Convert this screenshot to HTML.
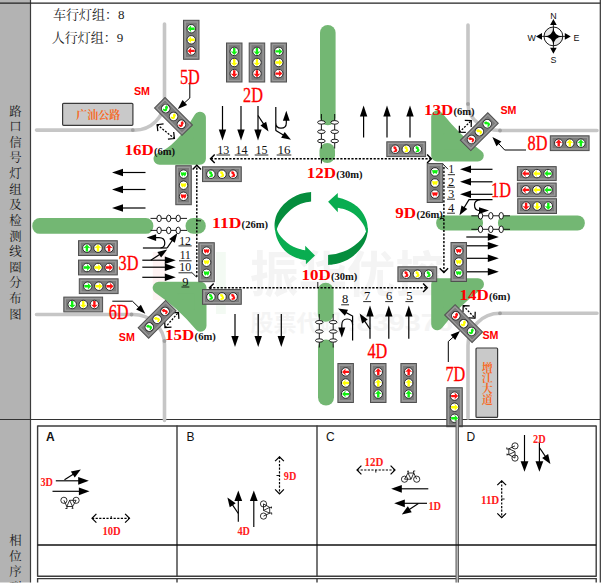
<!DOCTYPE html>
<html><head><meta charset="utf-8"><title>Intersection signal diagram</title>
<style>html,body{margin:0;padding:0;background:#fff;font-family:"Liberation Sans",sans-serif;overflow:hidden}svg{display:block;position:absolute;left:0;top:0}</style>
</head><body>
<svg width="608" height="585" viewBox="0 0 608 585">
<title>路口信号灯组及检测线圈分布图</title><desc>车行灯组：8 人行灯组：9 路口信号灯组及检测线圈分布图 相位序列 广汕公路 增江大道 A B C D</desc>
<rect width="608" height="585" fill="#fff"/>
<defs><clipPath id="cp"><rect x="0" y="0" width="608" height="582.6"/></clipPath></defs>
<g clip-path="url(#cp)">
<text x="250" y="292" font-family="Liberation Sans, Noto Sans CJK SC, sans-serif" font-weight="bold" font-size="48.7" fill="#f4f4f4" textLength="194" lengthAdjust="spacingAndGlyphs">振华优控</text>
<text x="250.5" y="330.5" font-family="Liberation Sans, Noto Sans CJK SC, sans-serif" font-weight="bold" font-size="23" fill="#f4f4f4" textLength="92" lengthAdjust="spacingAndGlyphs">股票代码</text>
<text x="347" y="331" font-family="Liberation Sans, sans-serif" font-weight="bold" font-size="23" fill="#f4f4f4" textLength="106" lengthAdjust="spacingAndGlyphs">:839376</text>
<rect x="152.8" y="252" width="13.8" height="48" fill="#fef3f3"/><rect x="216" y="252" width="9.8" height="62" fill="#f3faf3"/>
<rect x="0" y="0" width="30.5" height="583" fill="#b3b3b3"/>
<path d="M30.5,0 V583" stroke="#3c3c3c" stroke-width="1.2"/>
<path d="M0,3.1 H600.6" stroke="#222" stroke-width="1.1"/>
<path d="M600.3,0 V583" stroke="#333" stroke-width="1.2"/>
<path d="M0,419.5 H600" stroke="#333" stroke-width="1.1"/>
<path d="M36.5,130.1 H134.5 A30,29.6 0 0 0 164.5,100.5 V24" fill="none" stroke="#c6c6c6" stroke-width="3.6" stroke-linecap="round"/>
<path d="M468,25 V104 A32,26.5 0 0 0 500,130.5 H597" fill="none" stroke="#c6c6c6" stroke-width="3.6" stroke-linecap="round"/>
<path d="M36.5,314.5 H133 A31.5,30 0 0 1 164.5,344.5 V420.5" fill="none" stroke="#c6c6c6" stroke-width="3.6" stroke-linecap="round"/>
<path d="M597,313.3 H500 A32,32 0 0 0 468,345.3 V418" fill="none" stroke="#c6c6c6" stroke-width="3.6" stroke-linecap="round"/>
<circle cx="132.8" cy="130.1" r="1.9" fill="#a0a0a0"/>
<circle cx="468" cy="104" r="1.9" fill="#a0a0a0"/>
<circle cx="500" cy="130.5" r="1.9" fill="#a0a0a0"/>
<circle cx="131.5" cy="314.5" r="1.9" fill="#a0a0a0"/>
<circle cx="164.5" cy="341" r="1.9" fill="#a0a0a0"/>
<circle cx="500" cy="313.3" r="1.9" fill="#a0a0a0"/>
<rect x="320" y="25" width="15.6" height="100.2" rx="7.8" ry="7.8" fill="#73b773"/>
<rect x="319.5" y="143" width="15.5" height="20" rx="7.75" ry="7.75" fill="#73b773"/>
<rect x="317.8" y="282.7" width="15.8" height="39.1" rx="7.9" ry="7.9" fill="#73b773"/>
<rect x="318" y="339.4" width="16" height="66.1" rx="8" ry="8" fill="#73b773"/>
<rect x="32.3" y="218" width="121" height="15.8" rx="7.4" ry="7.4" fill="#73b773"/>
<rect x="185.5" y="218" width="20.3" height="15.8" rx="7.9" ry="7.9" fill="#73b773"/>
<rect x="436.2" y="215.4" width="46.8" height="15.2" rx="7.2" ry="7.2" fill="#73b773"/>
<rect x="498" y="215.4" width="86.8" height="15.2" rx="7.2" ry="7.2" fill="#73b773"/>
<path d="M199.9,117.7 L199.9,158.8 L159.5,158.8 Q180.3,151.2 199.9,117.7 Z" fill="#73b773" stroke="#73b773" stroke-width="12" stroke-linejoin="round"/>
<path d="M437.2,116.6 L437.2,155.6 L477.8,155.6 Q457.4,141.8 437.2,116.6 Z" fill="#73b773" stroke="#73b773" stroke-width="12" stroke-linejoin="round"/>
<path d="M158.7,287.8 L200.5,287.8 L200.5,325.7 Q182.3,303.8 158.7,287.8 Z" fill="#73b773" stroke="#73b773" stroke-width="12" stroke-linejoin="round"/>
<path d="M437.2,284.2 L478,284.2 Q455,301.3 437.2,324.2 Z" fill="#73b773" stroke="#73b773" stroke-width="12" stroke-linejoin="round"/>
<path d="M150.5,218.4 H187" stroke="#000" stroke-width="0.9"/>
<ellipse cx="159.1" cy="218.4" rx="2.2" ry="3.3" fill="#fff" stroke="#000" stroke-width="0.9"/>
<ellipse cx="168.7" cy="218.4" rx="2.2" ry="3.3" fill="#fff" stroke="#000" stroke-width="0.9"/>
<ellipse cx="178.2" cy="218.4" rx="2.2" ry="3.3" fill="#fff" stroke="#000" stroke-width="0.9"/>
<path d="M150.5,230.4 H187" stroke="#000" stroke-width="0.9"/>
<ellipse cx="159.1" cy="230.4" rx="2.2" ry="3.3" fill="#fff" stroke="#000" stroke-width="0.9"/>
<ellipse cx="168.7" cy="230.4" rx="2.2" ry="3.3" fill="#fff" stroke="#000" stroke-width="0.9"/>
<ellipse cx="178.2" cy="230.4" rx="2.2" ry="3.3" fill="#fff" stroke="#000" stroke-width="0.9"/>
<path d="M471.3,215.8 H510" stroke="#000" stroke-width="0.9"/>
<ellipse cx="480.5" cy="215.8" rx="2.2" ry="3.3" fill="#fff" stroke="#000" stroke-width="0.9"/>
<ellipse cx="490.8" cy="215.8" rx="2.2" ry="3.3" fill="#fff" stroke="#000" stroke-width="0.9"/>
<ellipse cx="501.2" cy="215.8" rx="2.2" ry="3.3" fill="#fff" stroke="#000" stroke-width="0.9"/>
<path d="M471.3,229.3 H510" stroke="#000" stroke-width="0.9"/>
<ellipse cx="480.5" cy="229.3" rx="2.2" ry="3.3" fill="#fff" stroke="#000" stroke-width="0.9"/>
<ellipse cx="490.8" cy="229.3" rx="2.2" ry="3.3" fill="#fff" stroke="#000" stroke-width="0.9"/>
<ellipse cx="501.2" cy="229.3" rx="2.2" ry="3.3" fill="#fff" stroke="#000" stroke-width="0.9"/>
<path d="M321.4,114 V148.5" stroke="#000" stroke-width="0.9"/>
<ellipse cx="321.4" cy="122.4" rx="3.8" ry="1.8" fill="#fff" stroke="#000" stroke-width="0.9"/>
<ellipse cx="321.4" cy="131.7" rx="3.8" ry="1.8" fill="#fff" stroke="#000" stroke-width="0.9"/>
<ellipse cx="321.4" cy="141" rx="3.8" ry="1.8" fill="#fff" stroke="#000" stroke-width="0.9"/>
<path d="M334.7,114 V148.5" stroke="#000" stroke-width="0.9"/>
<ellipse cx="334.7" cy="122.4" rx="3.8" ry="1.8" fill="#fff" stroke="#000" stroke-width="0.9"/>
<ellipse cx="334.7" cy="131.7" rx="3.8" ry="1.8" fill="#fff" stroke="#000" stroke-width="0.9"/>
<ellipse cx="334.7" cy="141" rx="3.8" ry="1.8" fill="#fff" stroke="#000" stroke-width="0.9"/>
<path d="M319.3,314 V347.5" stroke="#000" stroke-width="0.9"/>
<ellipse cx="319.3" cy="322.2" rx="3.8" ry="1.7" fill="#fff" stroke="#000" stroke-width="0.9"/>
<ellipse cx="319.3" cy="331.5" rx="3.8" ry="1.7" fill="#fff" stroke="#000" stroke-width="0.9"/>
<ellipse cx="319.3" cy="340.5" rx="3.8" ry="1.7" fill="#fff" stroke="#000" stroke-width="0.9"/>
<path d="M333.2,314 V347.5" stroke="#000" stroke-width="0.9"/>
<ellipse cx="333.2" cy="322.2" rx="3.8" ry="1.7" fill="#fff" stroke="#000" stroke-width="0.9"/>
<ellipse cx="333.2" cy="331.5" rx="3.8" ry="1.7" fill="#fff" stroke="#000" stroke-width="0.9"/>
<ellipse cx="333.2" cy="340.5" rx="3.8" ry="1.7" fill="#fff" stroke="#000" stroke-width="0.9"/>
<path d="M311.1,192.1 C309.6,192.35 304.85,192.85 302.1,193.6 C299.35,194.35 297.12,195.28 294.6,196.6 C292.08,197.92 289.27,199.68 287,201.5 C284.73,203.32 282.75,205.23 281,207.5 C279.25,209.77 277.57,212.47 276.5,215.1 C275.43,217.73 274.87,220.8 274.6,223.3 C274.33,225.8 274.85,228.97 274.9,230.1 L276.5,232 C276.63,231.3 276.67,229.5 277.3,227.8 C277.93,226.1 279.05,223.8 280.3,221.8 C281.55,219.8 283.05,217.8 284.8,215.8 C286.55,213.8 288.67,211.55 290.8,209.8 C292.93,208.05 295.35,206.48 297.6,205.3 C299.85,204.12 302.05,203.33 304.3,202.7 C306.55,202.07 309.97,201.7 311.1,201.5 Z" fill="#058d3d"/>
<path d="M328.1,264.9 C329.38,264.73 333.2,264.47 335.8,263.9 C338.4,263.33 341.07,262.62 343.7,261.5 C346.33,260.38 349.1,258.98 351.6,257.2 C354.1,255.42 356.58,253.18 358.7,250.8 C360.82,248.42 362.92,245.4 364.3,242.9 C365.68,240.4 366.42,238.17 367,235.8 C367.58,233.43 367.67,229.88 367.8,228.7 L367.3,227.2 C367.05,227.98 366.57,230.2 365.8,231.9 C365.03,233.6 364.13,235.5 362.7,237.4 C361.27,239.3 359.18,241.52 357.2,243.3 C355.22,245.08 353.05,246.72 350.8,248.1 C348.55,249.48 346.2,250.62 343.7,251.6 C341.2,252.58 338.4,253.45 335.8,254 C333.2,254.55 329.38,254.75 328.1,254.9 Z" fill="#058d3d"/>
<path d="M275,226.5 C275.1,227.67 275.12,231.15 275.6,233.5 C276.08,235.85 276.78,238.23 277.9,240.6 C279.02,242.97 280.65,245.6 282.3,247.7 C283.95,249.8 285.7,251.62 287.8,253.2 C289.9,254.78 292.53,256.15 294.9,257.2 C297.27,258.25 300.17,259 302,259.5 C303.83,260 305.25,260.08 305.9,260.2 L305.9,264.3 L315,255.6 L305.2,245.7 L305.2,250.2 C304.67,250.12 303.45,250.05 302,249.7 C300.55,249.35 298.47,248.9 296.5,248.1 C294.53,247.3 292.32,246.28 290.2,244.9 C288.08,243.52 285.65,241.57 283.8,239.8 C281.95,238.03 280.28,236.15 279.1,234.3 C277.92,232.45 277.17,230.5 276.7,228.7 C276.23,226.9 276.37,224.37 276.3,223.5 Z" fill="#09ad50"/>
<path d="M367.8,232.5 C367.72,231.13 367.7,226.72 367.3,224.3 C366.9,221.88 366.3,220.1 365.4,218 C364.5,215.9 363.27,213.6 361.9,211.7 C360.53,209.8 359.05,208.18 357.2,206.6 C355.35,205.02 352.92,203.4 350.8,202.2 C348.68,201 346.67,200.17 344.5,199.4 C342.33,198.63 338.92,197.9 337.8,197.6 L337.8,192.9 L328.1,201.8 L337.8,212.3 L337.8,207.7 C338.92,207.97 342.33,208.57 344.5,209.3 C346.67,210.03 348.82,210.98 350.8,212.1 C352.78,213.22 354.68,214.48 356.4,216 C358.12,217.52 359.78,219.48 361.1,221.2 C362.42,222.92 363.43,224.42 364.3,226.3 C365.17,228.18 365.97,231.47 366.3,232.5 Z" fill="#09ad50"/>
<path d="M431.3,158.8 L210.5,158.8" stroke="#000" stroke-width="1.45" stroke-dasharray="2.2 1.5" fill="none"/>
<path d="M214.7,154.6 L210.5,158.8 L214.7,163" stroke="#000" stroke-width="1.45" fill="none"/>
<path d="M427.1,154.6 L431.3,158.8 L427.1,163" stroke="#000" stroke-width="1.45" fill="none"/>
<path d="M209.5,287.7 L427.3,287.7" stroke="#000" stroke-width="1.45" stroke-dasharray="2.2 1.5" fill="none"/>
<path d="M423.1,291.9 L427.3,287.7 L423.1,283.5" stroke="#000" stroke-width="1.45" fill="none"/>
<path d="M213.7,291.9 L209.5,287.7 L213.7,283.5" stroke="#000" stroke-width="1.45" fill="none"/>
<path d="M196.8,277 L196.8,165.3" stroke="#000" stroke-width="1.45" stroke-dasharray="2.2 1.5" fill="none"/>
<path d="M201,169.5 L196.8,165.3 L192.6,169.5" stroke="#000" stroke-width="1.45" fill="none"/>
<path d="M191.6,272.3 L196.6,277.2" stroke="#000" stroke-width="0.9"/>
<path d="M443.9,167 L443.9,272.5" stroke="#000" stroke-width="1.45" stroke-dasharray="2.2 1.5" fill="none"/>
<path d="M439.7,268.3 L443.9,272.5 L448.1,268.3" stroke="#000" stroke-width="1.45" fill="none"/>
<path d="M442.8,163.9 L448,169.2" stroke="#000" stroke-width="0.9"/>
<path d="M196.8,220.8 H201 M321.4,158.8 V163.5 M317.8,287.7 V282 M443.8,218.5 H440 M111.2,518.3 V516 M279.5,475.5 H276.5 M375.8,470 V472.6 M501.6,499 H504.6" stroke="#000" stroke-width="0.9" fill="none"/>
<path d="M157.1,124.7 L174.4,138.5" stroke="#000" stroke-width="1.25" stroke-dasharray="2 1.4" fill="none"/>
<path d="M167.94,139.23 L174.4,138.5 L173.67,132.04" stroke="#000" stroke-width="1.25" fill="none"/>
<path d="M157.83,131.16 L157.1,124.7 L163.56,123.97" stroke="#000" stroke-width="1.25" fill="none"/>
<path d="M165,327.6 L178.5,312.4" stroke="#000" stroke-width="1.25" stroke-dasharray="2 1.4" fill="none"/>
<path d="M178.88,318.89 L178.5,312.4 L172.01,312.78" stroke="#000" stroke-width="1.25" fill="none"/>
<path d="M171.49,327.22 L165,327.6 L164.62,321.11" stroke="#000" stroke-width="1.25" fill="none"/>
<path d="M463.2,305.6 L475,318.2" stroke="#000" stroke-width="1.25" stroke-dasharray="2 1.4" fill="none"/>
<path d="M468.5,317.99 L475,318.2 L475.21,311.7" stroke="#000" stroke-width="1.25" fill="none"/>
<path d="M462.99,312.1 L463.2,305.6 L469.7,305.81" stroke="#000" stroke-width="1.25" fill="none"/>
<path d="M459.3,132.2 L471.3,120.6" stroke="#000" stroke-width="1.25" stroke-dasharray="2 1.4" fill="none"/>
<path d="M471.19,127.1 L471.3,120.6 L464.8,120.49" stroke="#000" stroke-width="1.25" fill="none"/>
<path d="M465.8,132.31 L459.3,132.2 L459.41,125.7" stroke="#000" stroke-width="1.25" fill="none"/>
<g transform="translate(183,19.8)">
<rect x="0.5" y="0.5" width="15.5" height="39" fill="#8e8e8e" stroke="#505050" stroke-width="1"/><rect x="2.3" y="2.3" width="11.9" height="35.4" fill="#7b7b7b" stroke="#a8a8a8" stroke-width="0.6"/>
<circle cx="8.25" cy="8.9" r="4.25" fill="#fff" stroke="#262626" stroke-width="0.95"/>
<path d="M-3.6,0 L0.1,-3.5 L-0.4,-1.2 L3.4,-1.2 L3.4,1.2 L-0.4,1.2 L0.1,3.5 Z" fill="#10f010" transform="translate(8.25,8.9) rotate(0) scale(1)"/>
<circle cx="8.25" cy="20" r="4.25" fill="#fff" stroke="#262626" stroke-width="0.95"/>
<path d="M-3.6,0 L0.1,-3.5 L-0.4,-1.2 L3.4,-1.2 L3.4,1.2 L-0.4,1.2 L0.1,3.5 Z" fill="#ffff00" transform="translate(8.25,20) rotate(0) scale(1)"/>
<circle cx="8.25" cy="31.1" r="4.25" fill="#fff" stroke="#262626" stroke-width="0.95"/>
<path d="M-3.6,0 L0.1,-3.5 L-0.4,-1.2 L3.4,-1.2 L3.4,1.2 L-0.4,1.2 L0.1,3.5 Z" fill="#ff1010" transform="translate(8.25,31.1) rotate(0) scale(1)"/>
</g>
<g transform="translate(226,42.5)">
<rect x="0.5" y="0.5" width="15.5" height="39" fill="#8e8e8e" stroke="#505050" stroke-width="1"/><rect x="2.3" y="2.3" width="11.9" height="35.4" fill="#7b7b7b" stroke="#a8a8a8" stroke-width="0.6"/>
<circle cx="8.25" cy="8.9" r="4.25" fill="#fff" stroke="#262626" stroke-width="0.95"/>
<path d="M-3.6,0 L0.1,-3.5 L-0.4,-1.2 L3.4,-1.2 L3.4,1.2 L-0.4,1.2 L0.1,3.5 Z" fill="#10f010" transform="translate(8.25,8.9) rotate(270) scale(1)"/>
<circle cx="8.25" cy="20" r="4.25" fill="#fff" stroke="#262626" stroke-width="0.95"/>
<path d="M-3.6,0 L0.1,-3.5 L-0.4,-1.2 L3.4,-1.2 L3.4,1.2 L-0.4,1.2 L0.1,3.5 Z" fill="#ffff00" transform="translate(8.25,20) rotate(270) scale(1)"/>
<circle cx="8.25" cy="31.1" r="4.25" fill="#fff" stroke="#262626" stroke-width="0.95"/>
<path d="M-3.6,0 L0.1,-3.5 L-0.4,-1.2 L3.4,-1.2 L3.4,1.2 L-0.4,1.2 L0.1,3.5 Z" fill="#ff1010" transform="translate(8.25,31.1) rotate(270) scale(1)"/>
</g>
<g transform="translate(248.7,42.5)">
<rect x="0.5" y="0.5" width="15.5" height="39" fill="#8e8e8e" stroke="#505050" stroke-width="1"/><rect x="2.3" y="2.3" width="11.9" height="35.4" fill="#7b7b7b" stroke="#a8a8a8" stroke-width="0.6"/>
<circle cx="8.25" cy="8.9" r="4.25" fill="#fff" stroke="#262626" stroke-width="0.95"/>
<path d="M-3.6,0 L0.1,-3.5 L-0.4,-1.2 L3.4,-1.2 L3.4,1.2 L-0.4,1.2 L0.1,3.5 Z" fill="#10f010" transform="translate(8.25,8.9) rotate(270) scale(1)"/>
<circle cx="8.25" cy="20" r="4.25" fill="#fff" stroke="#262626" stroke-width="0.95"/>
<path d="M-3.6,0 L0.1,-3.5 L-0.4,-1.2 L3.4,-1.2 L3.4,1.2 L-0.4,1.2 L0.1,3.5 Z" fill="#ffff00" transform="translate(8.25,20) rotate(270) scale(1)"/>
<circle cx="8.25" cy="31.1" r="4.25" fill="#fff" stroke="#262626" stroke-width="0.95"/>
<path d="M-3.6,0 L0.1,-3.5 L-0.4,-1.2 L3.4,-1.2 L3.4,1.2 L-0.4,1.2 L0.1,3.5 Z" fill="#ff1010" transform="translate(8.25,31.1) rotate(270) scale(1)"/>
</g>
<g transform="translate(270.5,42.5)">
<rect x="0.5" y="0.5" width="15.5" height="39" fill="#8e8e8e" stroke="#505050" stroke-width="1"/><rect x="2.3" y="2.3" width="11.9" height="35.4" fill="#7b7b7b" stroke="#a8a8a8" stroke-width="0.6"/>
<circle cx="8.25" cy="8.9" r="4.25" fill="#fff" stroke="#262626" stroke-width="0.95"/>
<path d="M-3.6,0 L0.1,-3.5 L-0.4,-1.2 L3.4,-1.2 L3.4,1.2 L-0.4,1.2 L0.1,3.5 Z" fill="#10f010" transform="translate(8.25,8.9) rotate(180) scale(1)"/>
<circle cx="8.25" cy="20" r="4.25" fill="#fff" stroke="#262626" stroke-width="0.95"/>
<path d="M-3.6,0 L0.1,-3.5 L-0.4,-1.2 L3.4,-1.2 L3.4,1.2 L-0.4,1.2 L0.1,3.5 Z" fill="#ffff00" transform="translate(8.25,20) rotate(180) scale(1)"/>
<circle cx="8.25" cy="31.1" r="4.25" fill="#fff" stroke="#262626" stroke-width="0.95"/>
<path d="M-3.6,0 L0.1,-3.5 L-0.4,-1.2 L3.4,-1.2 L3.4,1.2 L-0.4,1.2 L0.1,3.5 Z" fill="#ff1010" transform="translate(8.25,31.1) rotate(180) scale(1)"/>
</g>
<g transform="translate(337.4,363)">
<rect x="0.5" y="0.5" width="15.5" height="39" fill="#8e8e8e" stroke="#505050" stroke-width="1"/><rect x="2.3" y="2.3" width="11.9" height="35.4" fill="#7b7b7b" stroke="#a8a8a8" stroke-width="0.6"/>
<circle cx="8.25" cy="8.9" r="4.25" fill="#fff" stroke="#262626" stroke-width="0.95"/>
<path d="M-3.6,0 L0.1,-3.5 L-0.4,-1.2 L3.4,-1.2 L3.4,1.2 L-0.4,1.2 L0.1,3.5 Z" fill="#ff1010" transform="translate(8.25,8.9) rotate(0) scale(1)"/>
<circle cx="8.25" cy="20" r="4.25" fill="#fff" stroke="#262626" stroke-width="0.95"/>
<path d="M-3.6,0 L0.1,-3.5 L-0.4,-1.2 L3.4,-1.2 L3.4,1.2 L-0.4,1.2 L0.1,3.5 Z" fill="#ffff00" transform="translate(8.25,20) rotate(0) scale(1)"/>
<circle cx="8.25" cy="31.1" r="4.25" fill="#fff" stroke="#262626" stroke-width="0.95"/>
<path d="M-3.6,0 L0.1,-3.5 L-0.4,-1.2 L3.4,-1.2 L3.4,1.2 L-0.4,1.2 L0.1,3.5 Z" fill="#10f010" transform="translate(8.25,31.1) rotate(0) scale(1)"/>
</g>
<g transform="translate(370,363)">
<rect x="0.5" y="0.5" width="15.5" height="39" fill="#8e8e8e" stroke="#505050" stroke-width="1"/><rect x="2.3" y="2.3" width="11.9" height="35.4" fill="#7b7b7b" stroke="#a8a8a8" stroke-width="0.6"/>
<circle cx="8.25" cy="8.9" r="4.25" fill="#fff" stroke="#262626" stroke-width="0.95"/>
<path d="M-3.6,0 L0.1,-3.5 L-0.4,-1.2 L3.4,-1.2 L3.4,1.2 L-0.4,1.2 L0.1,3.5 Z" fill="#ff1010" transform="translate(8.25,8.9) rotate(90) scale(1)"/>
<circle cx="8.25" cy="20" r="4.25" fill="#fff" stroke="#262626" stroke-width="0.95"/>
<path d="M-3.6,0 L0.1,-3.5 L-0.4,-1.2 L3.4,-1.2 L3.4,1.2 L-0.4,1.2 L0.1,3.5 Z" fill="#ffff00" transform="translate(8.25,20) rotate(90) scale(1)"/>
<circle cx="8.25" cy="31.1" r="4.25" fill="#fff" stroke="#262626" stroke-width="0.95"/>
<path d="M-3.6,0 L0.1,-3.5 L-0.4,-1.2 L3.4,-1.2 L3.4,1.2 L-0.4,1.2 L0.1,3.5 Z" fill="#10f010" transform="translate(8.25,31.1) rotate(90) scale(1)"/>
</g>
<g transform="translate(400.4,363)">
<rect x="0.5" y="0.5" width="15.5" height="39" fill="#8e8e8e" stroke="#505050" stroke-width="1"/><rect x="2.3" y="2.3" width="11.9" height="35.4" fill="#7b7b7b" stroke="#a8a8a8" stroke-width="0.6"/>
<circle cx="8.25" cy="8.9" r="4.25" fill="#fff" stroke="#262626" stroke-width="0.95"/>
<path d="M-3.6,0 L0.1,-3.5 L-0.4,-1.2 L3.4,-1.2 L3.4,1.2 L-0.4,1.2 L0.1,3.5 Z" fill="#ff1010" transform="translate(8.25,8.9) rotate(90) scale(1)"/>
<circle cx="8.25" cy="20" r="4.25" fill="#fff" stroke="#262626" stroke-width="0.95"/>
<path d="M-3.6,0 L0.1,-3.5 L-0.4,-1.2 L3.4,-1.2 L3.4,1.2 L-0.4,1.2 L0.1,3.5 Z" fill="#ffff00" transform="translate(8.25,20) rotate(90) scale(1)"/>
<circle cx="8.25" cy="31.1" r="4.25" fill="#fff" stroke="#262626" stroke-width="0.95"/>
<path d="M-3.6,0 L0.1,-3.5 L-0.4,-1.2 L3.4,-1.2 L3.4,1.2 L-0.4,1.2 L0.1,3.5 Z" fill="#10f010" transform="translate(8.25,31.1) rotate(90) scale(1)"/>
</g>
<g transform="translate(446.3,387.2)">
<rect x="0.5" y="0.5" width="15.5" height="39" fill="#8e8e8e" stroke="#505050" stroke-width="1"/><rect x="2.3" y="2.3" width="11.9" height="35.4" fill="#7b7b7b" stroke="#a8a8a8" stroke-width="0.6"/>
<circle cx="8.25" cy="8.9" r="4.25" fill="#fff" stroke="#262626" stroke-width="0.95"/>
<path d="M-3.6,0 L0.1,-3.5 L-0.4,-1.2 L3.4,-1.2 L3.4,1.2 L-0.4,1.2 L0.1,3.5 Z" fill="#ff1010" transform="translate(8.25,8.9) rotate(180) scale(1)"/>
<circle cx="8.25" cy="20" r="4.25" fill="#fff" stroke="#262626" stroke-width="0.95"/>
<path d="M-3.6,0 L0.1,-3.5 L-0.4,-1.2 L3.4,-1.2 L3.4,1.2 L-0.4,1.2 L0.1,3.5 Z" fill="#ffff00" transform="translate(8.25,20) rotate(180) scale(1)"/>
<circle cx="8.25" cy="31.1" r="4.25" fill="#fff" stroke="#262626" stroke-width="0.95"/>
<path d="M-3.6,0 L0.1,-3.5 L-0.4,-1.2 L3.4,-1.2 L3.4,1.2 L-0.4,1.2 L0.1,3.5 Z" fill="#10f010" transform="translate(8.25,31.1) rotate(180) scale(1)"/>
</g>
<g transform="translate(549.8,135.3)">
<rect x="0.5" y="0.5" width="38.8" height="14.8" fill="#8e8e8e" stroke="#505050" stroke-width="1"/><rect x="2.3" y="2.3" width="35.2" height="11.2" fill="#7b7b7b" stroke="#a8a8a8" stroke-width="0.6"/>
<circle cx="8.9" cy="7.9" r="4.25" fill="#fff" stroke="#262626" stroke-width="0.95"/>
<path d="M-3.6,0 L0.1,-3.5 L-0.4,-1.2 L3.4,-1.2 L3.4,1.2 L-0.4,1.2 L0.1,3.5 Z" fill="#ff1010" transform="translate(8.9,7.9) rotate(90) scale(1)"/>
<circle cx="20" cy="7.9" r="4.25" fill="#fff" stroke="#262626" stroke-width="0.95"/>
<path d="M-3.6,0 L0.1,-3.5 L-0.4,-1.2 L3.4,-1.2 L3.4,1.2 L-0.4,1.2 L0.1,3.5 Z" fill="#ffff00" transform="translate(20,7.9) rotate(90) scale(1)"/>
<circle cx="31.1" cy="7.9" r="4.25" fill="#fff" stroke="#262626" stroke-width="0.95"/>
<path d="M-3.6,0 L0.1,-3.5 L-0.4,-1.2 L3.4,-1.2 L3.4,1.2 L-0.4,1.2 L0.1,3.5 Z" fill="#10f010" transform="translate(31.1,7.9) rotate(90) scale(1)"/>
</g>
<g transform="translate(516.9,166.1)">
<rect x="0.5" y="0.5" width="38.8" height="14" fill="#8e8e8e" stroke="#505050" stroke-width="1"/><rect x="2.3" y="2.3" width="35.2" height="10.4" fill="#7b7b7b" stroke="#a8a8a8" stroke-width="0.6"/>
<circle cx="8.9" cy="7.5" r="4.25" fill="#fff" stroke="#262626" stroke-width="0.95"/>
<path d="M-3.6,0 L0.1,-3.5 L-0.4,-1.2 L3.4,-1.2 L3.4,1.2 L-0.4,1.2 L0.1,3.5 Z" fill="#ff1010" transform="translate(8.9,7.5) rotate(0) scale(1)"/>
<circle cx="20" cy="7.5" r="4.25" fill="#fff" stroke="#262626" stroke-width="0.95"/>
<path d="M-3.6,0 L0.1,-3.5 L-0.4,-1.2 L3.4,-1.2 L3.4,1.2 L-0.4,1.2 L0.1,3.5 Z" fill="#ffff00" transform="translate(20,7.5) rotate(0) scale(1)"/>
<circle cx="31.1" cy="7.5" r="4.25" fill="#fff" stroke="#262626" stroke-width="0.95"/>
<path d="M-3.6,0 L0.1,-3.5 L-0.4,-1.2 L3.4,-1.2 L3.4,1.2 L-0.4,1.2 L0.1,3.5 Z" fill="#10f010" transform="translate(31.1,7.5) rotate(0) scale(1)"/>
</g>
<g transform="translate(516.9,182.5)">
<rect x="0.5" y="0.5" width="38.8" height="13.8" fill="#8e8e8e" stroke="#505050" stroke-width="1"/><rect x="2.3" y="2.3" width="35.2" height="10.2" fill="#7b7b7b" stroke="#a8a8a8" stroke-width="0.6"/>
<circle cx="8.9" cy="7.4" r="4.25" fill="#fff" stroke="#262626" stroke-width="0.95"/>
<path d="M-3.6,0 L0.1,-3.5 L-0.4,-1.2 L3.4,-1.2 L3.4,1.2 L-0.4,1.2 L0.1,3.5 Z" fill="#ff1010" transform="translate(8.9,7.4) rotate(0) scale(1)"/>
<circle cx="20" cy="7.4" r="4.25" fill="#fff" stroke="#262626" stroke-width="0.95"/>
<path d="M-3.6,0 L0.1,-3.5 L-0.4,-1.2 L3.4,-1.2 L3.4,1.2 L-0.4,1.2 L0.1,3.5 Z" fill="#ffff00" transform="translate(20,7.4) rotate(0) scale(1)"/>
<circle cx="31.1" cy="7.4" r="4.25" fill="#fff" stroke="#262626" stroke-width="0.95"/>
<path d="M-3.6,0 L0.1,-3.5 L-0.4,-1.2 L3.4,-1.2 L3.4,1.2 L-0.4,1.2 L0.1,3.5 Z" fill="#10f010" transform="translate(31.1,7.4) rotate(0) scale(1)"/>
</g>
<g transform="translate(517.2,198.2)">
<rect x="0.5" y="0.5" width="38.8" height="14.8" fill="#8e8e8e" stroke="#505050" stroke-width="1"/><rect x="2.3" y="2.3" width="35.2" height="11.2" fill="#7b7b7b" stroke="#a8a8a8" stroke-width="0.6"/>
<circle cx="8.9" cy="7.9" r="4.25" fill="#fff" stroke="#262626" stroke-width="0.95"/>
<path d="M-3.6,0 L0.1,-3.5 L-0.4,-1.2 L3.4,-1.2 L3.4,1.2 L-0.4,1.2 L0.1,3.5 Z" fill="#ff1010" transform="translate(8.9,7.9) rotate(270) scale(1)"/>
<circle cx="20" cy="7.9" r="4.25" fill="#fff" stroke="#262626" stroke-width="0.95"/>
<path d="M-3.6,0 L0.1,-3.5 L-0.4,-1.2 L3.4,-1.2 L3.4,1.2 L-0.4,1.2 L0.1,3.5 Z" fill="#ffff00" transform="translate(20,7.9) rotate(270) scale(1)"/>
<circle cx="31.1" cy="7.9" r="4.25" fill="#fff" stroke="#262626" stroke-width="0.95"/>
<path d="M-3.6,0 L0.1,-3.5 L-0.4,-1.2 L3.4,-1.2 L3.4,1.2 L-0.4,1.2 L0.1,3.5 Z" fill="#10f010" transform="translate(31.1,7.9) rotate(270) scale(1)"/>
</g>
<g transform="translate(78,240.2)">
<rect x="0.5" y="0.5" width="38.8" height="14.8" fill="#8e8e8e" stroke="#505050" stroke-width="1"/><rect x="2.3" y="2.3" width="35.2" height="11.2" fill="#7b7b7b" stroke="#a8a8a8" stroke-width="0.6"/>
<circle cx="8.9" cy="7.9" r="4.25" fill="#fff" stroke="#262626" stroke-width="0.95"/>
<path d="M-3.6,0 L0.1,-3.5 L-0.4,-1.2 L3.4,-1.2 L3.4,1.2 L-0.4,1.2 L0.1,3.5 Z" fill="#10f010" transform="translate(8.9,7.9) rotate(90) scale(1)"/>
<circle cx="20" cy="7.9" r="4.25" fill="#fff" stroke="#262626" stroke-width="0.95"/>
<path d="M-3.6,0 L0.1,-3.5 L-0.4,-1.2 L3.4,-1.2 L3.4,1.2 L-0.4,1.2 L0.1,3.5 Z" fill="#ffff00" transform="translate(20,7.9) rotate(90) scale(1)"/>
<circle cx="31.1" cy="7.9" r="4.25" fill="#fff" stroke="#262626" stroke-width="0.95"/>
<path d="M-3.6,0 L0.1,-3.5 L-0.4,-1.2 L3.4,-1.2 L3.4,1.2 L-0.4,1.2 L0.1,3.5 Z" fill="#ff1010" transform="translate(31.1,7.9) rotate(90) scale(1)"/>
</g>
<g transform="translate(78,259.6)">
<rect x="0.5" y="0.5" width="38.8" height="14.8" fill="#8e8e8e" stroke="#505050" stroke-width="1"/><rect x="2.3" y="2.3" width="35.2" height="11.2" fill="#7b7b7b" stroke="#a8a8a8" stroke-width="0.6"/>
<circle cx="8.9" cy="7.9" r="4.25" fill="#fff" stroke="#262626" stroke-width="0.95"/>
<path d="M-3.6,0 L0.1,-3.5 L-0.4,-1.2 L3.4,-1.2 L3.4,1.2 L-0.4,1.2 L0.1,3.5 Z" fill="#10f010" transform="translate(8.9,7.9) rotate(180) scale(1)"/>
<circle cx="20" cy="7.9" r="4.25" fill="#fff" stroke="#262626" stroke-width="0.95"/>
<path d="M-3.6,0 L0.1,-3.5 L-0.4,-1.2 L3.4,-1.2 L3.4,1.2 L-0.4,1.2 L0.1,3.5 Z" fill="#ffff00" transform="translate(20,7.9) rotate(180) scale(1)"/>
<circle cx="31.1" cy="7.9" r="4.25" fill="#fff" stroke="#262626" stroke-width="0.95"/>
<path d="M-3.6,0 L0.1,-3.5 L-0.4,-1.2 L3.4,-1.2 L3.4,1.2 L-0.4,1.2 L0.1,3.5 Z" fill="#ff1010" transform="translate(31.1,7.9) rotate(180) scale(1)"/>
</g>
<g transform="translate(78.8,278.3)">
<rect x="0.5" y="0.5" width="38.8" height="14.8" fill="#8e8e8e" stroke="#505050" stroke-width="1"/><rect x="2.3" y="2.3" width="35.2" height="11.2" fill="#7b7b7b" stroke="#a8a8a8" stroke-width="0.6"/>
<circle cx="8.9" cy="7.9" r="4.25" fill="#fff" stroke="#262626" stroke-width="0.95"/>
<path d="M-3.6,0 L0.1,-3.5 L-0.4,-1.2 L3.4,-1.2 L3.4,1.2 L-0.4,1.2 L0.1,3.5 Z" fill="#10f010" transform="translate(8.9,7.9) rotate(180) scale(1)"/>
<circle cx="20" cy="7.9" r="4.25" fill="#fff" stroke="#262626" stroke-width="0.95"/>
<path d="M-3.6,0 L0.1,-3.5 L-0.4,-1.2 L3.4,-1.2 L3.4,1.2 L-0.4,1.2 L0.1,3.5 Z" fill="#ffff00" transform="translate(20,7.9) rotate(180) scale(1)"/>
<circle cx="31.1" cy="7.9" r="4.25" fill="#fff" stroke="#262626" stroke-width="0.95"/>
<path d="M-3.6,0 L0.1,-3.5 L-0.4,-1.2 L3.4,-1.2 L3.4,1.2 L-0.4,1.2 L0.1,3.5 Z" fill="#ff1010" transform="translate(31.1,7.9) rotate(180) scale(1)"/>
</g>
<g transform="translate(63.3,296.6)">
<rect x="0.5" y="0.5" width="38.8" height="14.8" fill="#8e8e8e" stroke="#505050" stroke-width="1"/><rect x="2.3" y="2.3" width="35.2" height="11.2" fill="#7b7b7b" stroke="#a8a8a8" stroke-width="0.6"/>
<circle cx="8.9" cy="7.9" r="4.25" fill="#fff" stroke="#262626" stroke-width="0.95"/>
<path d="M-3.6,0 L0.1,-3.5 L-0.4,-1.2 L3.4,-1.2 L3.4,1.2 L-0.4,1.2 L0.1,3.5 Z" fill="#10f010" transform="translate(8.9,7.9) rotate(270) scale(1)"/>
<circle cx="20" cy="7.9" r="4.25" fill="#fff" stroke="#262626" stroke-width="0.95"/>
<path d="M-3.6,0 L0.1,-3.5 L-0.4,-1.2 L3.4,-1.2 L3.4,1.2 L-0.4,1.2 L0.1,3.5 Z" fill="#ffff00" transform="translate(20,7.9) rotate(270) scale(1)"/>
<circle cx="31.1" cy="7.9" r="4.25" fill="#fff" stroke="#262626" stroke-width="0.95"/>
<path d="M-3.6,0 L0.1,-3.5 L-0.4,-1.2 L3.4,-1.2 L3.4,1.2 L-0.4,1.2 L0.1,3.5 Z" fill="#ff1010" transform="translate(31.1,7.9) rotate(270) scale(1)"/>
</g>
<g transform="translate(175.3,165.2)">
<rect x="0.5" y="0.5" width="15.5" height="39" fill="#8e8e8e" stroke="#505050" stroke-width="1"/><rect x="2.3" y="2.3" width="11.9" height="35.4" fill="#7b7b7b" stroke="#a8a8a8" stroke-width="0.6"/>
<circle cx="8.25" cy="8.9" r="4.25" fill="#fff" stroke="#262626" stroke-width="0.95"/>
<path d="M-2.9,-1.6 C-1.8,-2.6 -0.9,-1.2 0,-1.8 C0.9,-1.2 1.8,-2.6 2.9,-1.6 L2.4,0.6 L1.2,2.4 L0.4,1.2 L-0.4,1.2 L-1.2,2.4 L-2.4,0.6 Z" fill="#10f010" transform="translate(8.25,8.9)"/>
<circle cx="8.25" cy="20" r="4.25" fill="#fff" stroke="#262626" stroke-width="0.95"/>
<path d="M-2.9,-1.6 C-1.8,-2.6 -0.9,-1.2 0,-1.8 C0.9,-1.2 1.8,-2.6 2.9,-1.6 L2.4,0.6 L1.2,2.4 L0.4,1.2 L-0.4,1.2 L-1.2,2.4 L-2.4,0.6 Z" fill="#ffff00" transform="translate(8.25,20)"/>
<circle cx="8.25" cy="31.1" r="4.25" fill="#fff" stroke="#262626" stroke-width="0.95"/>
<path d="M-2.9,-1.6 C-1.8,-2.6 -0.9,-1.2 0,-1.8 C0.9,-1.2 1.8,-2.6 2.9,-1.6 L2.4,0.6 L1.2,2.4 L0.4,1.2 L-0.4,1.2 L-1.2,2.4 L-2.4,0.6 Z" fill="#ff1010" transform="translate(8.25,31.1)"/>
</g>
<g transform="translate(198.3,242.2)">
<rect x="0.5" y="0.5" width="15.5" height="39" fill="#8e8e8e" stroke="#505050" stroke-width="1"/><rect x="2.3" y="2.3" width="11.9" height="35.4" fill="#7b7b7b" stroke="#a8a8a8" stroke-width="0.6"/>
<circle cx="8.25" cy="8.9" r="4.25" fill="#fff" stroke="#262626" stroke-width="0.95"/>
<path d="M-2.9,-1.6 C-1.8,-2.6 -0.9,-1.2 0,-1.8 C0.9,-1.2 1.8,-2.6 2.9,-1.6 L2.4,0.6 L1.2,2.4 L0.4,1.2 L-0.4,1.2 L-1.2,2.4 L-2.4,0.6 Z" fill="#ff1010" transform="translate(8.25,8.9)"/>
<circle cx="8.25" cy="20" r="4.25" fill="#fff" stroke="#262626" stroke-width="0.95"/>
<path d="M-2.9,-1.6 C-1.8,-2.6 -0.9,-1.2 0,-1.8 C0.9,-1.2 1.8,-2.6 2.9,-1.6 L2.4,0.6 L1.2,2.4 L0.4,1.2 L-0.4,1.2 L-1.2,2.4 L-2.4,0.6 Z" fill="#ffff00" transform="translate(8.25,20)"/>
<circle cx="8.25" cy="31.1" r="4.25" fill="#fff" stroke="#262626" stroke-width="0.95"/>
<path d="M-2.9,-1.6 C-1.8,-2.6 -0.9,-1.2 0,-1.8 C0.9,-1.2 1.8,-2.6 2.9,-1.6 L2.4,0.6 L1.2,2.4 L0.4,1.2 L-0.4,1.2 L-1.2,2.4 L-2.4,0.6 Z" fill="#10f010" transform="translate(8.25,31.1)"/>
</g>
<g transform="translate(426.7,163)">
<rect x="0.5" y="0.5" width="15.5" height="39" fill="#8e8e8e" stroke="#505050" stroke-width="1"/><rect x="2.3" y="2.3" width="11.9" height="35.4" fill="#7b7b7b" stroke="#a8a8a8" stroke-width="0.6"/>
<circle cx="8.25" cy="8.9" r="4.25" fill="#fff" stroke="#262626" stroke-width="0.95"/>
<path d="M-2.9,-1.6 C-1.8,-2.6 -0.9,-1.2 0,-1.8 C0.9,-1.2 1.8,-2.6 2.9,-1.6 L2.4,0.6 L1.2,2.4 L0.4,1.2 L-0.4,1.2 L-1.2,2.4 L-2.4,0.6 Z" fill="#10f010" transform="translate(8.25,8.9)"/>
<circle cx="8.25" cy="20" r="4.25" fill="#fff" stroke="#262626" stroke-width="0.95"/>
<path d="M-2.9,-1.6 C-1.8,-2.6 -0.9,-1.2 0,-1.8 C0.9,-1.2 1.8,-2.6 2.9,-1.6 L2.4,0.6 L1.2,2.4 L0.4,1.2 L-0.4,1.2 L-1.2,2.4 L-2.4,0.6 Z" fill="#ffff00" transform="translate(8.25,20)"/>
<circle cx="8.25" cy="31.1" r="4.25" fill="#fff" stroke="#262626" stroke-width="0.95"/>
<path d="M-2.9,-1.6 C-1.8,-2.6 -0.9,-1.2 0,-1.8 C0.9,-1.2 1.8,-2.6 2.9,-1.6 L2.4,0.6 L1.2,2.4 L0.4,1.2 L-0.4,1.2 L-1.2,2.4 L-2.4,0.6 Z" fill="#ff1010" transform="translate(8.25,31.1)"/>
</g>
<g transform="translate(450.5,242)">
<rect x="0.5" y="0.5" width="15.5" height="39" fill="#8e8e8e" stroke="#505050" stroke-width="1"/><rect x="2.3" y="2.3" width="11.9" height="35.4" fill="#7b7b7b" stroke="#a8a8a8" stroke-width="0.6"/>
<circle cx="8.25" cy="8.9" r="4.25" fill="#fff" stroke="#262626" stroke-width="0.95"/>
<path d="M-2.9,-1.6 C-1.8,-2.6 -0.9,-1.2 0,-1.8 C0.9,-1.2 1.8,-2.6 2.9,-1.6 L2.4,0.6 L1.2,2.4 L0.4,1.2 L-0.4,1.2 L-1.2,2.4 L-2.4,0.6 Z" fill="#ff1010" transform="translate(8.25,8.9)"/>
<circle cx="8.25" cy="20" r="4.25" fill="#fff" stroke="#262626" stroke-width="0.95"/>
<path d="M-2.9,-1.6 C-1.8,-2.6 -0.9,-1.2 0,-1.8 C0.9,-1.2 1.8,-2.6 2.9,-1.6 L2.4,0.6 L1.2,2.4 L0.4,1.2 L-0.4,1.2 L-1.2,2.4 L-2.4,0.6 Z" fill="#ffff00" transform="translate(8.25,20)"/>
<circle cx="8.25" cy="31.1" r="4.25" fill="#fff" stroke="#262626" stroke-width="0.95"/>
<path d="M-2.9,-1.6 C-1.8,-2.6 -0.9,-1.2 0,-1.8 C0.9,-1.2 1.8,-2.6 2.9,-1.6 L2.4,0.6 L1.2,2.4 L0.4,1.2 L-0.4,1.2 L-1.2,2.4 L-2.4,0.6 Z" fill="#10f010" transform="translate(8.25,31.1)"/>
</g>
<g transform="translate(202,166.3)">
<rect x="0.5" y="0.5" width="38.8" height="14.8" fill="#8e8e8e" stroke="#505050" stroke-width="1"/><rect x="2.3" y="2.3" width="35.2" height="11.2" fill="#7b7b7b" stroke="#a8a8a8" stroke-width="0.6"/>
<circle cx="8.9" cy="7.9" r="4.25" fill="#fff" stroke="#262626" stroke-width="0.95"/>
<path d="M-1.8,-2.9 C0.2,-3.4 1.8,-2.2 1.2,-0.8 C2.4,-0.2 2.4,1.6 1.4,2.6 L-1.2,3 L-1.9,1.8 L-0.3,1.2 L-0.3,0.2 L-1.7,-0.6 Z" fill="#10f010" transform="translate(8.9,7.9)"/>
<circle cx="20" cy="7.9" r="4.25" fill="#fff" stroke="#262626" stroke-width="0.95"/>
<path d="M-1.8,-2.9 C0.2,-3.4 1.8,-2.2 1.2,-0.8 C2.4,-0.2 2.4,1.6 1.4,2.6 L-1.2,3 L-1.9,1.8 L-0.3,1.2 L-0.3,0.2 L-1.7,-0.6 Z" fill="#ffff00" transform="translate(20,7.9)"/>
<circle cx="31.1" cy="7.9" r="4.25" fill="#fff" stroke="#262626" stroke-width="0.95"/>
<path d="M-1.8,-2.9 C0.2,-3.4 1.8,-2.2 1.2,-0.8 C2.4,-0.2 2.4,1.6 1.4,2.6 L-1.2,3 L-1.9,1.8 L-0.3,1.2 L-0.3,0.2 L-1.7,-0.6 Z" fill="#ff1010" transform="translate(31.1,7.9)"/>
</g>
<g transform="translate(386.3,141.3)">
<rect x="0.5" y="0.5" width="38.8" height="14.8" fill="#8e8e8e" stroke="#505050" stroke-width="1"/><rect x="2.3" y="2.3" width="35.2" height="11.2" fill="#7b7b7b" stroke="#a8a8a8" stroke-width="0.6"/>
<circle cx="8.9" cy="7.9" r="4.25" fill="#fff" stroke="#262626" stroke-width="0.95"/>
<path d="M-1.8,-2.9 C0.2,-3.4 1.8,-2.2 1.2,-0.8 C2.4,-0.2 2.4,1.6 1.4,2.6 L-1.2,3 L-1.9,1.8 L-0.3,1.2 L-0.3,0.2 L-1.7,-0.6 Z" fill="#ff1010" transform="translate(8.9,7.9)"/>
<circle cx="20" cy="7.9" r="4.25" fill="#fff" stroke="#262626" stroke-width="0.95"/>
<path d="M-1.8,-2.9 C0.2,-3.4 1.8,-2.2 1.2,-0.8 C2.4,-0.2 2.4,1.6 1.4,2.6 L-1.2,3 L-1.9,1.8 L-0.3,1.2 L-0.3,0.2 L-1.7,-0.6 Z" fill="#ffff00" transform="translate(20,7.9)"/>
<circle cx="31.1" cy="7.9" r="4.25" fill="#fff" stroke="#262626" stroke-width="0.95"/>
<path d="M-1.8,-2.9 C0.2,-3.4 1.8,-2.2 1.2,-0.8 C2.4,-0.2 2.4,1.6 1.4,2.6 L-1.2,3 L-1.9,1.8 L-0.3,1.2 L-0.3,0.2 L-1.7,-0.6 Z" fill="#10f010" transform="translate(31.1,7.9)"/>
</g>
<g transform="translate(202,289)">
<rect x="0.5" y="0.5" width="38.8" height="14.8" fill="#8e8e8e" stroke="#505050" stroke-width="1"/><rect x="2.3" y="2.3" width="35.2" height="11.2" fill="#7b7b7b" stroke="#a8a8a8" stroke-width="0.6"/>
<circle cx="8.9" cy="7.9" r="4.25" fill="#fff" stroke="#262626" stroke-width="0.95"/>
<path d="M-1.8,-2.9 C0.2,-3.4 1.8,-2.2 1.2,-0.8 C2.4,-0.2 2.4,1.6 1.4,2.6 L-1.2,3 L-1.9,1.8 L-0.3,1.2 L-0.3,0.2 L-1.7,-0.6 Z" fill="#10f010" transform="translate(8.9,7.9)"/>
<circle cx="20" cy="7.9" r="4.25" fill="#fff" stroke="#262626" stroke-width="0.95"/>
<path d="M-1.8,-2.9 C0.2,-3.4 1.8,-2.2 1.2,-0.8 C2.4,-0.2 2.4,1.6 1.4,2.6 L-1.2,3 L-1.9,1.8 L-0.3,1.2 L-0.3,0.2 L-1.7,-0.6 Z" fill="#ffff00" transform="translate(20,7.9)"/>
<circle cx="31.1" cy="7.9" r="4.25" fill="#fff" stroke="#262626" stroke-width="0.95"/>
<path d="M-1.8,-2.9 C0.2,-3.4 1.8,-2.2 1.2,-0.8 C2.4,-0.2 2.4,1.6 1.4,2.6 L-1.2,3 L-1.9,1.8 L-0.3,1.2 L-0.3,0.2 L-1.7,-0.6 Z" fill="#ff1010" transform="translate(31.1,7.9)"/>
</g>
<g transform="translate(397.4,266.3)">
<rect x="0.5" y="0.5" width="38.8" height="14.8" fill="#8e8e8e" stroke="#505050" stroke-width="1"/><rect x="2.3" y="2.3" width="35.2" height="11.2" fill="#7b7b7b" stroke="#a8a8a8" stroke-width="0.6"/>
<circle cx="8.9" cy="7.9" r="4.25" fill="#fff" stroke="#262626" stroke-width="0.95"/>
<path d="M-1.8,-2.9 C0.2,-3.4 1.8,-2.2 1.2,-0.8 C2.4,-0.2 2.4,1.6 1.4,2.6 L-1.2,3 L-1.9,1.8 L-0.3,1.2 L-0.3,0.2 L-1.7,-0.6 Z" fill="#ff1010" transform="translate(8.9,7.9)"/>
<circle cx="20" cy="7.9" r="4.25" fill="#fff" stroke="#262626" stroke-width="0.95"/>
<path d="M-1.8,-2.9 C0.2,-3.4 1.8,-2.2 1.2,-0.8 C2.4,-0.2 2.4,1.6 1.4,2.6 L-1.2,3 L-1.9,1.8 L-0.3,1.2 L-0.3,0.2 L-1.7,-0.6 Z" fill="#ffff00" transform="translate(20,7.9)"/>
<circle cx="31.1" cy="7.9" r="4.25" fill="#fff" stroke="#262626" stroke-width="0.95"/>
<path d="M-1.8,-2.9 C0.2,-3.4 1.8,-2.2 1.2,-0.8 C2.4,-0.2 2.4,1.6 1.4,2.6 L-1.2,3 L-1.9,1.8 L-0.3,1.2 L-0.3,0.2 L-1.7,-0.6 Z" fill="#10f010" transform="translate(31.1,7.9)"/>
</g>
<g transform="translate(173.5,116.4) rotate(45) translate(-19.9,-7.9)">
<rect x="0.5" y="0.5" width="38.8" height="14.8" fill="#8e8e8e" stroke="#505050" stroke-width="1"/><rect x="2.3" y="2.3" width="35.2" height="11.2" fill="#7b7b7b" stroke="#a8a8a8" stroke-width="0.6"/>
<circle cx="8.9" cy="7.9" r="4.25" fill="#fff" stroke="#262626" stroke-width="0.95"/>
<path d="M-1.8,-2.9 C0.2,-3.4 1.8,-2.2 1.2,-0.8 C2.4,-0.2 2.4,1.6 1.4,2.6 L-1.2,3 L-1.9,1.8 L-0.3,1.2 L-0.3,0.2 L-1.7,-0.6 Z" fill="#10f010" transform="translate(8.9,7.9)"/>
<circle cx="20" cy="7.9" r="4.25" fill="#fff" stroke="#262626" stroke-width="0.95"/>
<path d="M-1.8,-2.9 C0.2,-3.4 1.8,-2.2 1.2,-0.8 C2.4,-0.2 2.4,1.6 1.4,2.6 L-1.2,3 L-1.9,1.8 L-0.3,1.2 L-0.3,0.2 L-1.7,-0.6 Z" fill="#ffff00" transform="translate(20,7.9)"/>
<circle cx="31.1" cy="7.9" r="4.25" fill="#fff" stroke="#262626" stroke-width="0.95"/>
<path d="M-1.8,-2.9 C0.2,-3.4 1.8,-2.2 1.2,-0.8 C2.4,-0.2 2.4,1.6 1.4,2.6 L-1.2,3 L-1.9,1.8 L-0.3,1.2 L-0.3,0.2 L-1.7,-0.6 Z" fill="#ff1010" transform="translate(31.1,7.9)"/>
</g>
<g transform="translate(479.3,131.7) rotate(-45) translate(-19.9,-7.9)">
<rect x="0.5" y="0.5" width="38.8" height="14.8" fill="#8e8e8e" stroke="#505050" stroke-width="1"/><rect x="2.3" y="2.3" width="35.2" height="11.2" fill="#7b7b7b" stroke="#a8a8a8" stroke-width="0.6"/>
<circle cx="8.9" cy="7.9" r="4.25" fill="#fff" stroke="#262626" stroke-width="0.95"/>
<path d="M-1.8,-2.9 C0.2,-3.4 1.8,-2.2 1.2,-0.8 C2.4,-0.2 2.4,1.6 1.4,2.6 L-1.2,3 L-1.9,1.8 L-0.3,1.2 L-0.3,0.2 L-1.7,-0.6 Z" fill="#ff1010" transform="translate(8.9,7.9)"/>
<circle cx="20" cy="7.9" r="4.25" fill="#fff" stroke="#262626" stroke-width="0.95"/>
<path d="M-1.8,-2.9 C0.2,-3.4 1.8,-2.2 1.2,-0.8 C2.4,-0.2 2.4,1.6 1.4,2.6 L-1.2,3 L-1.9,1.8 L-0.3,1.2 L-0.3,0.2 L-1.7,-0.6 Z" fill="#ffff00" transform="translate(20,7.9)"/>
<circle cx="31.1" cy="7.9" r="4.25" fill="#fff" stroke="#262626" stroke-width="0.95"/>
<path d="M-1.8,-2.9 C0.2,-3.4 1.8,-2.2 1.2,-0.8 C2.4,-0.2 2.4,1.6 1.4,2.6 L-1.2,3 L-1.9,1.8 L-0.3,1.2 L-0.3,0.2 L-1.7,-0.6 Z" fill="#10f010" transform="translate(31.1,7.9)"/>
</g>
<g transform="translate(157.1,319.3) rotate(-45) translate(-19.9,-7.9)">
<rect x="0.5" y="0.5" width="38.8" height="14.8" fill="#8e8e8e" stroke="#505050" stroke-width="1"/><rect x="2.3" y="2.3" width="35.2" height="11.2" fill="#7b7b7b" stroke="#a8a8a8" stroke-width="0.6"/>
<circle cx="8.9" cy="7.9" r="4.25" fill="#fff" stroke="#262626" stroke-width="0.95"/>
<path d="M-1.8,-2.9 C0.2,-3.4 1.8,-2.2 1.2,-0.8 C2.4,-0.2 2.4,1.6 1.4,2.6 L-1.2,3 L-1.9,1.8 L-0.3,1.2 L-0.3,0.2 L-1.7,-0.6 Z" fill="#10f010" transform="translate(8.9,7.9)"/>
<circle cx="20" cy="7.9" r="4.25" fill="#fff" stroke="#262626" stroke-width="0.95"/>
<path d="M-1.8,-2.9 C0.2,-3.4 1.8,-2.2 1.2,-0.8 C2.4,-0.2 2.4,1.6 1.4,2.6 L-1.2,3 L-1.9,1.8 L-0.3,1.2 L-0.3,0.2 L-1.7,-0.6 Z" fill="#ffff00" transform="translate(20,7.9)"/>
<circle cx="31.1" cy="7.9" r="4.25" fill="#fff" stroke="#262626" stroke-width="0.95"/>
<path d="M-1.8,-2.9 C0.2,-3.4 1.8,-2.2 1.2,-0.8 C2.4,-0.2 2.4,1.6 1.4,2.6 L-1.2,3 L-1.9,1.8 L-0.3,1.2 L-0.3,0.2 L-1.7,-0.6 Z" fill="#ff1010" transform="translate(31.1,7.9)"/>
</g>
<g transform="translate(463.6,323.6) rotate(45) translate(-19.9,-7.9)">
<rect x="0.5" y="0.5" width="38.8" height="14.8" fill="#8e8e8e" stroke="#505050" stroke-width="1"/><rect x="2.3" y="2.3" width="35.2" height="11.2" fill="#7b7b7b" stroke="#a8a8a8" stroke-width="0.6"/>
<circle cx="8.9" cy="7.9" r="4.25" fill="#fff" stroke="#262626" stroke-width="0.95"/>
<path d="M-1.8,-2.9 C0.2,-3.4 1.8,-2.2 1.2,-0.8 C2.4,-0.2 2.4,1.6 1.4,2.6 L-1.2,3 L-1.9,1.8 L-0.3,1.2 L-0.3,0.2 L-1.7,-0.6 Z" fill="#ff1010" transform="translate(8.9,7.9)"/>
<circle cx="20" cy="7.9" r="4.25" fill="#fff" stroke="#262626" stroke-width="0.95"/>
<path d="M-1.8,-2.9 C0.2,-3.4 1.8,-2.2 1.2,-0.8 C2.4,-0.2 2.4,1.6 1.4,2.6 L-1.2,3 L-1.9,1.8 L-0.3,1.2 L-0.3,0.2 L-1.7,-0.6 Z" fill="#ffff00" transform="translate(20,7.9)"/>
<circle cx="31.1" cy="7.9" r="4.25" fill="#fff" stroke="#262626" stroke-width="0.95"/>
<path d="M-1.8,-2.9 C0.2,-3.4 1.8,-2.2 1.2,-0.8 C2.4,-0.2 2.4,1.6 1.4,2.6 L-1.2,3 L-1.9,1.8 L-0.3,1.2 L-0.3,0.2 L-1.7,-0.6 Z" fill="#10f010" transform="translate(31.1,7.9)"/>
</g>
<path d="M222.5,106 L222.5,130.5" fill="none" stroke="#000" stroke-width="1.2"/>
<path d="M222.5,140.5 L218.8,129.5 L226.2,129.5 Z" fill="#000"/>
<path d="M241,106 L241,130.5" fill="none" stroke="#000" stroke-width="1.2"/>
<path d="M241,140.5 L237.3,129.5 L244.7,129.5 Z" fill="#000"/>
<path d="M258,106 L258,130.5" fill="none" stroke="#000" stroke-width="1.2"/>
<path d="M258,140.5 L254.3,129.5 L261.7,129.5 Z" fill="#000"/>
<path d="M258,115.5 L263.84,124.39" fill="none" stroke="#000" stroke-width="1.2"/>
<path d="M268.5,131.5 L260.45,125.42 L266.13,121.69 Z" fill="#000"/>
<path d="M275.8,107 V130.8 M275.8,122.5 Q275.8,128.2 281,128.2 Q286.3,128.2 286.3,123 V119" fill="none" stroke="#000" stroke-width="1.2"/>
<path d="M286.3,110.8 L289.7,120.8 L282.9,120.8 Z" fill="#000"/>
<path d="M275.8,130.5 L283.75,135.36" fill="none" stroke="#000" stroke-width="1.2"/>
<path d="M291,139.8 L281.12,137.74 L284.67,131.94 Z" fill="#000"/>
<path d="M363.6,137.5 L363.6,115.5" fill="none" stroke="#000" stroke-width="1.2"/>
<path d="M363.6,105.5 L367.3,116.5 L359.9,116.5 Z" fill="#000"/>
<path d="M387,137.5 L387,115.5" fill="none" stroke="#000" stroke-width="1.2"/>
<path d="M387,105.5 L390.7,116.5 L383.3,116.5 Z" fill="#000"/>
<path d="M410,137.5 L410,115.5" fill="none" stroke="#000" stroke-width="1.2"/>
<path d="M410,105.5 L413.7,116.5 L406.3,116.5 Z" fill="#000"/>
<path d="M492.5,169.3 L470,169.3" fill="none" stroke="#000" stroke-width="1.2"/>
<path d="M460,169.3 L471,165.6 L471,173 Z" fill="#000"/>
<path d="M492.5,181.8 L470,181.8" fill="none" stroke="#000" stroke-width="1.2"/>
<path d="M460,181.8 L471,178.1 L471,185.5 Z" fill="#000"/>
<path d="M492.5,194.3 L470,194.3" fill="none" stroke="#000" stroke-width="1.2"/>
<path d="M460,194.3 L471,190.6 L471,198 Z" fill="#000"/>
<path d="M492.5,199.6 L469,199.6 L463.9,208.03" fill="none" stroke="#000" stroke-width="1.2"/>
<path d="M459.5,215.3 L461.51,205.41 L467.33,208.93 Z" fill="#000"/>
<path d="M480.5,199.6 Q474.5,200 474.5,205 Q474.5,210.6 480,210.6" fill="none" stroke="#000" stroke-width="1.2"/>
<path d="M489,210.6 L479,214 L479,207.2 Z" fill="#000"/>
<path d="M466.3,237 L488.8,237" fill="none" stroke="#000" stroke-width="1.2"/>
<path d="M498.8,237 L487.8,240.7 L487.8,233.3 Z" fill="#000"/>
<path d="M467,245.8 L488.8,245.8" fill="none" stroke="#000" stroke-width="1.2"/>
<path d="M498.8,245.8 L487.8,249.5 L487.8,242.1 Z" fill="#000"/>
<path d="M467,258.3 L488.8,258.3" fill="none" stroke="#000" stroke-width="1.2"/>
<path d="M498.8,258.3 L487.8,262 L487.8,254.6 Z" fill="#000"/>
<path d="M467,271.8 L488.8,271.8" fill="none" stroke="#000" stroke-width="1.2"/>
<path d="M498.8,271.8 L487.8,275.5 L487.8,268.1 Z" fill="#000"/>
<path d="M370,338.8 L370,315.5" fill="none" stroke="#000" stroke-width="1.2"/>
<path d="M370,305.5 L373.7,316.5 L366.3,316.5 Z" fill="#000"/>
<path d="M388.8,338.8 L388.8,315.5" fill="none" stroke="#000" stroke-width="1.2"/>
<path d="M388.8,305.5 L392.5,316.5 L385.1,316.5 Z" fill="#000"/>
<path d="M408.8,338.8 L408.8,315.5" fill="none" stroke="#000" stroke-width="1.2"/>
<path d="M408.8,305.5 L412.5,316.5 L405.1,316.5 Z" fill="#000"/>
<path d="M370,329 L364.36,320.64" fill="none" stroke="#000" stroke-width="1.2"/>
<path d="M359.6,313.6 L367.73,319.57 L362.1,323.38 Z" fill="#000"/>
<path d="M352.6,340.5 L352.6,316 L345.56,312.38" fill="none" stroke="#000" stroke-width="1.2"/>
<path d="M338,308.5 L348,309.82 L344.9,315.87 Z" fill="#000"/>
<path d="M352.6,325 Q352.6,319 347.2,319 Q341.8,319 341.8,325 V328.5" fill="none" stroke="#000" stroke-width="1.2"/>
<path d="M341.8,337.6 L338.3,327.6 L345.3,327.6 Z" fill="#000"/>
<path d="M235,314 L235,337" fill="none" stroke="#000" stroke-width="1.2"/>
<path d="M235,347 L231.3,336 L238.7,336 Z" fill="#000"/>
<path d="M258.2,314 L258.2,337" fill="none" stroke="#000" stroke-width="1.2"/>
<path d="M258.2,347 L254.5,336 L261.9,336 Z" fill="#000"/>
<path d="M281.3,314 L281.3,337" fill="none" stroke="#000" stroke-width="1.2"/>
<path d="M281.3,347 L277.6,336 L285,336 Z" fill="#000"/>
<path d="M142.3,260.2 L165.8,260.2" fill="none" stroke="#000" stroke-width="1.2"/>
<path d="M175.8,260.2 L164.8,263.9 L164.8,256.5 Z" fill="#000"/>
<path d="M142.3,267.2 L165.8,267.2" fill="none" stroke="#000" stroke-width="1.2"/>
<path d="M175.8,267.2 L164.8,270.9 L164.8,263.5 Z" fill="#000"/>
<path d="M142.3,277.3 L165.8,277.3" fill="none" stroke="#000" stroke-width="1.2"/>
<path d="M175.8,277.3 L164.8,281 L164.8,273.6 Z" fill="#000"/>
<path d="M142.9,248 H167.2" stroke="#000" stroke-width="1.2"/>
<path d="M167.2,247.8 L172.58,240" fill="none" stroke="#000" stroke-width="1.2"/>
<path d="M177.4,233 L174.81,242.75 L169.21,238.89 Z" fill="#000"/>
<path d="M150.8,260.2 L160.06,254.21" fill="none" stroke="#000" stroke-width="1.2"/>
<path d="M167.2,249.6 L161.07,257.61 L157.38,251.9 Z" fill="#000"/>
<path d="M160.5,248 Q164.8,247.6 164.8,243 Q164.8,237.6 159,237.6 H156" fill="none" stroke="#000" stroke-width="1.2"/>
<path d="M146.6,237.6 L156.1,234.2 L156.1,241 Z" fill="#000"/>
<path d="M145.5,172.5 L122,172.5" fill="none" stroke="#000" stroke-width="1.2"/>
<path d="M112,172.5 L123,168.8 L123,176.2 Z" fill="#000"/>
<path d="M145.5,189.5 L122,189.5" fill="none" stroke="#000" stroke-width="1.2"/>
<path d="M112,189.5 L123,185.8 L123,193.2 Z" fill="#000"/>
<path d="M145.5,208 L122,208" fill="none" stroke="#000" stroke-width="1.2"/>
<path d="M112,208 L123,204.3 L123,211.7 Z" fill="#000"/>
<path d="M189.8,82.5 L189.8,98 L184.07,103.26" fill="none" stroke="#000" stroke-width="1"/>
<path d="M177.8,109 L182.51,100.07 L187.1,105.09 Z" fill="#000"/>
<path d="M526,150 L504.7,150 L498.24,143.17" fill="none" stroke="#000" stroke-width="1"/>
<path d="M492.4,137 L501.4,141.56 L496.46,146.24 Z" fill="#000"/>
<path d="M112.3,301.2 L132.4,301.2 L139.22,307.86" fill="none" stroke="#000" stroke-width="1"/>
<path d="M145.3,313.8 L136.13,309.59 L140.88,304.73 Z" fill="#000"/>
<path d="M448.3,362 L448.3,341.5 L453.67,336.68" fill="none" stroke="#000" stroke-width="1"/>
<path d="M460,331 L455.2,339.88 L450.66,334.81 Z" fill="#000"/>
<text x="217.3" y="153.6" font-family="Liberation Serif, serif" font-size="12.5" fill="#111" textLength="12" lengthAdjust="spacingAndGlyphs">13</text>
<path d="M216.5,155 H230.1" stroke="#111" stroke-width="0.9"/>
<text x="235.5" y="153.6" font-family="Liberation Serif, serif" font-size="12.5" fill="#111" textLength="12" lengthAdjust="spacingAndGlyphs">14</text>
<path d="M234.7,155 H248.3" stroke="#111" stroke-width="0.9"/>
<text x="255.5" y="153.6" font-family="Liberation Serif, serif" font-size="12.5" fill="#111" textLength="12" lengthAdjust="spacingAndGlyphs">15</text>
<path d="M254.7,155 H268.3" stroke="#111" stroke-width="0.9"/>
<text x="277.5" y="153.6" font-family="Liberation Serif, serif" font-size="12.5" fill="#111" textLength="13" lengthAdjust="spacingAndGlyphs">16</text>
<path d="M276.7,155 H291.3" stroke="#111" stroke-width="0.9"/>
<text x="179.3" y="244.5" font-family="Liberation Serif, serif" font-size="12.5" fill="#111" textLength="11.6" lengthAdjust="spacingAndGlyphs">12</text>
<path d="M178.5,245.9 H191.7" stroke="#111" stroke-width="0.9"/>
<text x="179.8" y="259.4" font-family="Liberation Serif, serif" font-size="12.5" fill="#111" textLength="11" lengthAdjust="spacingAndGlyphs">11</text>
<path d="M179,260.8 H191.6" stroke="#111" stroke-width="0.9"/>
<text x="179.3" y="271.4" font-family="Liberation Serif, serif" font-size="12.5" fill="#111" textLength="11.8" lengthAdjust="spacingAndGlyphs">10</text>
<path d="M178.5,272.8 H191.9" stroke="#111" stroke-width="0.9"/>
<text x="182.3" y="285.6" font-family="Liberation Serif, serif" font-size="12.5" fill="#111" textLength="6.25" lengthAdjust="spacingAndGlyphs">9</text>
<path d="M181.5,287 H189.35" stroke="#111" stroke-width="0.9"/>
<text x="342" y="303.4" font-family="Liberation Serif, serif" font-size="12.5" fill="#111" textLength="6.25" lengthAdjust="spacingAndGlyphs">8</text>
<path d="M341.2,304.8 H349.05" stroke="#111" stroke-width="0.9"/>
<text x="364" y="300.2" font-family="Liberation Serif, serif" font-size="12.5" fill="#111" textLength="6.25" lengthAdjust="spacingAndGlyphs">7</text>
<path d="M363.2,301.6 H371.05" stroke="#111" stroke-width="0.9"/>
<text x="386" y="300.2" font-family="Liberation Serif, serif" font-size="12.5" fill="#111" textLength="6.25" lengthAdjust="spacingAndGlyphs">6</text>
<path d="M385.2,301.6 H393.05" stroke="#111" stroke-width="0.9"/>
<text x="406.2" y="300.2" font-family="Liberation Serif, serif" font-size="12.5" fill="#111" textLength="6.25" lengthAdjust="spacingAndGlyphs">5</text>
<path d="M405.4,301.6 H413.25" stroke="#111" stroke-width="0.9"/>
<text x="448.6" y="173.3" font-family="Liberation Serif, serif" font-size="12.5" fill="#111" textLength="5.6" lengthAdjust="spacingAndGlyphs">1</text>
<path d="M447.8,174.7 H455" stroke="#111" stroke-width="0.9"/>
<text x="447.9" y="185.8" font-family="Liberation Serif, serif" font-size="12.5" fill="#111" textLength="6.25" lengthAdjust="spacingAndGlyphs">2</text>
<path d="M447.1,187.2 H454.95" stroke="#111" stroke-width="0.9"/>
<text x="447.9" y="197.8" font-family="Liberation Serif, serif" font-size="12.5" fill="#111" textLength="6.25" lengthAdjust="spacingAndGlyphs">3</text>
<path d="M447.1,199.2 H454.95" stroke="#111" stroke-width="0.9"/>
<text x="447.9" y="211.8" font-family="Liberation Serif, serif" font-size="12.5" fill="#111" textLength="6.25" lengthAdjust="spacingAndGlyphs">4</text>
<path d="M447.1,213.2 H454.95" stroke="#111" stroke-width="0.9"/>
<text x="179.9" y="83.8" font-family="Liberation Serif, serif" font-size="21" fill="#ff0000" stroke="#ff0000" stroke-width="0.35" textLength="19.8" lengthAdjust="spacingAndGlyphs">5D</text>
<text x="243.1" y="102" font-family="Liberation Serif, serif" font-size="21" fill="#ff0000" stroke="#ff0000" stroke-width="0.35" textLength="19.8" lengthAdjust="spacingAndGlyphs">2D</text>
<text x="491.1" y="197" font-family="Liberation Serif, serif" font-size="21" fill="#ff0000" stroke="#ff0000" stroke-width="0.35" textLength="19.8" lengthAdjust="spacingAndGlyphs">1D</text>
<text x="527.6" y="149.6" font-family="Liberation Serif, serif" font-size="21" fill="#ff0000" stroke="#ff0000" stroke-width="0.35" textLength="19.8" lengthAdjust="spacingAndGlyphs">8D</text>
<text x="118.6" y="270.4" font-family="Liberation Serif, serif" font-size="21" fill="#ff0000" stroke="#ff0000" stroke-width="0.35" textLength="19.8" lengthAdjust="spacingAndGlyphs">3D</text>
<text x="108.7" y="319.4" font-family="Liberation Serif, serif" font-size="21" fill="#ff0000" stroke="#ff0000" stroke-width="0.35" textLength="19.8" lengthAdjust="spacingAndGlyphs">6D</text>
<text x="367.4" y="358" font-family="Liberation Serif, serif" font-size="21" fill="#ff0000" stroke="#ff0000" stroke-width="0.35" textLength="19.8" lengthAdjust="spacingAndGlyphs">4D</text>
<text x="445.4" y="380.5" font-family="Liberation Serif, serif" font-size="21" fill="#ff0000" stroke="#ff0000" stroke-width="0.35" textLength="19.8" lengthAdjust="spacingAndGlyphs">7D</text>
<text x="124.44" y="154.8" font-family="Liberation Serif, serif" font-weight="bold" font-size="15.6" fill="#ff0000" textLength="29.2" lengthAdjust="spacingAndGlyphs">16D</text>
<text x="153.94" y="154.7" font-family="Liberation Serif, serif" font-weight="bold" font-size="10.5" fill="#111" textLength="21.2" lengthAdjust="spacingAndGlyphs">(6m)</text>
<text x="423.94" y="115.1" font-family="Liberation Serif, serif" font-weight="bold" font-size="15.6" fill="#ff0000" textLength="29.2" lengthAdjust="spacingAndGlyphs">13D</text>
<text x="453.44" y="115" font-family="Liberation Serif, serif" font-weight="bold" font-size="10.5" fill="#111" textLength="21.2" lengthAdjust="spacingAndGlyphs">(6m)</text>
<text x="306.74" y="177.6" font-family="Liberation Serif, serif" font-weight="bold" font-size="15.6" fill="#ff0000" textLength="29.2" lengthAdjust="spacingAndGlyphs">12D</text>
<text x="336.24" y="177.5" font-family="Liberation Serif, serif" font-weight="bold" font-size="10.5" fill="#111" textLength="26.4" lengthAdjust="spacingAndGlyphs">(30m)</text>
<text x="212.14" y="228.4" font-family="Liberation Serif, serif" font-weight="bold" font-size="15.6" fill="#ff0000" textLength="29.2" lengthAdjust="spacingAndGlyphs">11D</text>
<text x="241.64" y="228.3" font-family="Liberation Serif, serif" font-weight="bold" font-size="10.5" fill="#111" textLength="26.4" lengthAdjust="spacingAndGlyphs">(26m)</text>
<text x="395.3" y="218" font-family="Liberation Serif, serif" font-weight="bold" font-size="15.6" fill="#ff0000" textLength="20.8" lengthAdjust="spacingAndGlyphs">9D</text>
<text x="416.4" y="217.9" font-family="Liberation Serif, serif" font-weight="bold" font-size="10.5" fill="#111" textLength="26.4" lengthAdjust="spacingAndGlyphs">(26m)</text>
<text x="301.44" y="280" font-family="Liberation Serif, serif" font-weight="bold" font-size="15.6" fill="#ff0000" textLength="29.2" lengthAdjust="spacingAndGlyphs">10D</text>
<text x="330.94" y="279.9" font-family="Liberation Serif, serif" font-weight="bold" font-size="10.5" fill="#111" textLength="26.4" lengthAdjust="spacingAndGlyphs">(30m)</text>
<text x="165.14" y="340" font-family="Liberation Serif, serif" font-weight="bold" font-size="15.6" fill="#ff0000" textLength="29.2" lengthAdjust="spacingAndGlyphs">15D</text>
<text x="194.64" y="339.9" font-family="Liberation Serif, serif" font-weight="bold" font-size="10.5" fill="#111" textLength="21.2" lengthAdjust="spacingAndGlyphs">(6m)</text>
<text x="459.54" y="300.3" font-family="Liberation Serif, serif" font-weight="bold" font-size="15.6" fill="#ff0000" textLength="29.2" lengthAdjust="spacingAndGlyphs">14D</text>
<text x="489.04" y="300.2" font-family="Liberation Serif, serif" font-weight="bold" font-size="10.5" fill="#111" textLength="21.2" lengthAdjust="spacingAndGlyphs">(6m)</text>
<text x="134" y="95.2" font-family="Liberation Sans, sans-serif" font-weight="bold" font-size="10.5" fill="#ff0000" textLength="16" lengthAdjust="spacingAndGlyphs">SM</text>
<text x="500.5" y="114" font-family="Liberation Sans, sans-serif" font-weight="bold" font-size="10.5" fill="#ff0000" textLength="16" lengthAdjust="spacingAndGlyphs">SM</text>
<text x="118.8" y="341.3" font-family="Liberation Sans, sans-serif" font-weight="bold" font-size="10.5" fill="#ff0000" textLength="16" lengthAdjust="spacingAndGlyphs">SM</text>
<text x="482.5" y="338.8" font-family="Liberation Sans, sans-serif" font-weight="bold" font-size="10.5" fill="#ff0000" textLength="16" lengthAdjust="spacingAndGlyphs">SM</text>
<text x="53" y="18.5" font-family="Liberation Serif, Noto Serif CJK SC, serif" font-size="13" fill="#1a1a1a">车行灯组：8</text>
<text x="51.7" y="41.5" font-family="Liberation Serif, Noto Serif CJK SC, serif" font-size="13" fill="#1a1a1a">人行灯组：9</text>
<text font-family="Liberation Serif, Noto Serif CJK SC, serif" font-size="12.4" fill="#1a1a1a" text-anchor="middle"><tspan x="15.4" y="115.5">路</tspan><tspan x="15.4" y="131.1">口</tspan><tspan x="15.4" y="146.7">信</tspan><tspan x="15.4" y="162.4">号</tspan><tspan x="15.4" y="178">灯</tspan><tspan x="15.4" y="193.6">组</tspan><tspan x="15.4" y="209.2">及</tspan><tspan x="15.4" y="224.8">检</tspan><tspan x="15.4" y="240.5">测</tspan><tspan x="15.4" y="256.1">线</tspan><tspan x="15.4" y="271.7">圈</tspan><tspan x="15.4" y="287.3">分</tspan><tspan x="15.4" y="302.9">布</tspan><tspan x="15.4" y="318.6">图</tspan></text>
<text font-family="Liberation Serif, Noto Serif CJK SC, serif" font-size="12.4" fill="#1a1a1a" text-anchor="middle"><tspan x="15.4" y="545">相</tspan><tspan x="15.4" y="560.7">位</tspan><tspan x="15.4" y="576.4">序</tspan><tspan x="15.4" y="592.1">列</tspan></text>
<rect x="62.6" y="103.3" width="70.3" height="22" rx="1" fill="#c9c9c9" stroke="#3a3a3a" stroke-width="1.2"/>
<text x="76.3" y="119" font-family="Liberation Serif, Noto Serif CJK SC, serif" font-weight="bold" font-size="11" fill="#f86a25" textLength="44" lengthAdjust="spacingAndGlyphs">广汕公路</text>
<rect x="476" y="348" width="21.6" height="69.4" rx="1" fill="#c9c9c9" stroke="#3a3a3a" stroke-width="1.2"/>
<text font-family="Liberation Serif, Noto Serif CJK SC, serif" font-weight="bold" font-size="11" fill="#f86a25" text-anchor="middle"><tspan x="487.3" y="371.5">增</tspan><tspan x="487.3" y="382.3">江</tspan><tspan x="487.3" y="393.1">大</tspan><tspan x="487.3" y="403.9">道</tspan></text>
<g transform="translate(553.4,36.4)">
<path d="M0,0 L-9.4,0 A9.4,9.4 0 0 1 0,-9.4 Z M0,0 L9.4,0 A9.4,9.4 0 0 1 0,9.4 Z" fill="#e6e6e6"/>
<circle r="9.4" fill="none" stroke="#000" stroke-width="0.9"/>
<path d="M0,-12 V12 M-12,0 H12" stroke="#000" stroke-width="0.8"/>
<path d="M0,-9.4 Q0.35,-0.35 9.4,0 Q0.35,0.35 0,9.4 Q-0.35,0.35 -9.4,0 Q-0.35,-0.35 0,-9.4 Z" fill="#000"/>
<path d="M0,-17.4 L3.3,-11.4 L-3.3,-11.4 Z M0,17.4 L3.3,11.4 L-3.3,11.4 Z M-17.4,0 L-11.4,3.3 L-11.4,-3.3 Z M17.4,0 L11.4,3.3 L11.4,-3.3 Z" fill="#000"/>
<text x="0" y="-17.6" font-family="Liberation Sans, sans-serif" font-size="8.9" fill="#111" text-anchor="middle">N</text><text x="0" y="27" font-family="Liberation Sans, sans-serif" font-size="8.9" fill="#111" text-anchor="middle">S</text><text x="-21.8" y="5" font-family="Liberation Sans, sans-serif" font-size="8.9" fill="#111" text-anchor="middle">W</text><text x="23" y="5" font-family="Liberation Sans, sans-serif" font-size="8.9" fill="#111" text-anchor="middle">E</text>
</g>
<path d="M37.6,426 H596.2 M37.6,576.2 H596.2 M37.6,578.6 H596.2" fill="none" stroke="#3c3c3c" stroke-width="1.4"/>
<path d="M37.6,425.4 V576.8 M37.6,578 V583" fill="none" stroke="#3c3c3c" stroke-width="1.4"/>
<path d="M177,425.4 V576.8 M177,578 V583" fill="none" stroke="#3c3c3c" stroke-width="1.4"/>
<path d="M317,425.4 V576.8 M317,578 V583" fill="none" stroke="#3c3c3c" stroke-width="1.4"/>
<path d="M457.2,420 V583" stroke="#b5b5b5" stroke-width="2.6"/>
<path d="M456,420 V583 M458.5,420 V583" stroke="#555" stroke-width="0.9"/>
<path d="M596.2,425.4 V576.8 M596.2,578 V583" fill="none" stroke="#3c3c3c" stroke-width="1.4"/>
<path d="M37.6,545 H596.2" stroke="#111" stroke-width="1.6"/>
<text x="46" y="441" font-family="Liberation Sans, sans-serif" font-size="12" fill="#111" font-weight="bold">A</text><text x="186.5" y="441" font-family="Liberation Sans, sans-serif" font-size="12" fill="#111">B</text><text x="326" y="441" font-family="Liberation Sans, sans-serif" font-size="12" fill="#111">C</text><text x="466.6" y="441" font-family="Liberation Sans, sans-serif" font-size="12" fill="#111">D</text>
<text x="40.5" y="486.2" font-family="Liberation Serif, serif" font-weight="bold" font-size="12.8" fill="#ff2020" textLength="12.5" lengthAdjust="spacingAndGlyphs">3D</text>
<path d="M55.8,480.8 L79.2,480.8" fill="none" stroke="#000" stroke-width="1.15"/>
<path d="M88.8,480.8 L78.2,484.7 L78.2,476.9 Z" fill="#000"/>
<path d="M52.5,491.3 L79.9,491.3" fill="none" stroke="#000" stroke-width="1.15"/>
<path d="M89.5,491.3 L78.9,495.2 L78.9,487.4 Z" fill="#000"/>
<path d="M64.5,479.8 L73.63,473.97" fill="none" stroke="#000" stroke-width="1.15"/>
<path d="M80.8,469.4 L74.73,477.54 L70.85,471.47 Z" fill="#000"/>
<g transform="translate(70,502.9) rotate(180) scale(1,1)" fill="none" stroke="#000" stroke-width="0.8">
<circle cx="-6.1" cy="2.6" r="3.1"/><circle cx="6.1" cy="2.6" r="3.1"/>
<path d="M-6.1,2.6 L-2.6,-3.6 L3.2,-3.6 L6.1,2.6 M-2.6,-3.6 L0.4,2.6 L3.2,-3.6 M0.4,2.6 L-6.1,2.6 M-3.4,-5.4 L-1.6,-5.4 M-2.6,-3.6 L-2.6,-5.4 M3.2,-3.6 L2.8,-5.6 L4.6,-5.6"/>
</g>
<path d="M92,518.3 L129.5,518.3" stroke="#000" stroke-width="1.2" stroke-dasharray="2.2 1.4" fill="none"/>
<path d="M125.1,522.7 L129.5,518.3 L125.1,513.9" stroke="#000" stroke-width="1.2" fill="none"/>
<path d="M96.4,522.7 L92,518.3 L96.4,513.9" stroke="#000" stroke-width="1.2" fill="none"/>
<text x="102.5" y="535" font-family="Liberation Serif, serif" font-weight="bold" font-size="12.8" fill="#ff2020" textLength="18.3" lengthAdjust="spacingAndGlyphs">10D</text>
<path d="M279.5,456.8 L279.5,493.8" stroke="#000" stroke-width="1.2" stroke-dasharray="2.2 1.4" fill="none"/>
<path d="M275.1,489.4 L279.5,493.8 L283.9,489.4" stroke="#000" stroke-width="1.2" fill="none"/>
<path d="M275.1,461.2 L279.5,456.8 L283.9,461.2" stroke="#000" stroke-width="1.2" fill="none"/>
<text x="283.8" y="480" font-family="Liberation Serif, serif" font-weight="bold" font-size="12.8" fill="#ff2020" textLength="12.5" lengthAdjust="spacingAndGlyphs">9D</text>
<path d="M238.3,521.8 L238.3,500" fill="none" stroke="#000" stroke-width="1.15"/>
<path d="M238.3,490.4 L242.2,501 L234.4,501 Z" fill="#000"/>
<path d="M253.8,527 L253.8,500" fill="none" stroke="#000" stroke-width="1.15"/>
<path d="M253.8,490.4 L257.7,501 L249.9,501 Z" fill="#000"/>
<path d="M238.3,513.5 L232.17,504.44" fill="none" stroke="#000" stroke-width="1.15"/>
<path d="M227.4,497.4 L235.71,503.25 L229.74,507.28 Z" fill="#000"/>
<g transform="translate(266.1,510) rotate(90) scale(1,1)" fill="none" stroke="#000" stroke-width="0.8">
<circle cx="-6.1" cy="2.6" r="3.1"/><circle cx="6.1" cy="2.6" r="3.1"/>
<path d="M-6.1,2.6 L-2.6,-3.6 L3.2,-3.6 L6.1,2.6 M-2.6,-3.6 L0.4,2.6 L3.2,-3.6 M0.4,2.6 L-6.1,2.6 M-3.4,-5.4 L-1.6,-5.4 M-2.6,-3.6 L-2.6,-5.4 M3.2,-3.6 L2.8,-5.6 L4.6,-5.6"/>
</g>
<text x="237.5" y="535" font-family="Liberation Serif, serif" font-weight="bold" font-size="12.8" fill="#ff2020" textLength="12.5" lengthAdjust="spacingAndGlyphs">4D</text>
<text x="364.5" y="466.3" font-family="Liberation Serif, serif" font-weight="bold" font-size="12.8" fill="#ff2020" textLength="18.8" lengthAdjust="spacingAndGlyphs">12D</text>
<path d="M357,470 L395,470" stroke="#000" stroke-width="1.2" stroke-dasharray="2.2 1.4" fill="none"/>
<path d="M390.6,474.4 L395,470 L390.6,465.6" stroke="#000" stroke-width="1.2" fill="none"/>
<path d="M361.4,474.4 L357,470 L361.4,465.6" stroke="#000" stroke-width="1.2" fill="none"/>
<g transform="translate(410.6,476.6) rotate(0) scale(1,1)" fill="none" stroke="#000" stroke-width="0.8">
<circle cx="-6.1" cy="2.6" r="3.1"/><circle cx="6.1" cy="2.6" r="3.1"/>
<path d="M-6.1,2.6 L-2.6,-3.6 L3.2,-3.6 L6.1,2.6 M-2.6,-3.6 L0.4,2.6 L3.2,-3.6 M0.4,2.6 L-6.1,2.6 M-3.4,-5.4 L-1.6,-5.4 M-2.6,-3.6 L-2.6,-5.4 M3.2,-3.6 L2.8,-5.6 L4.6,-5.6"/>
</g>
<path d="M428.3,488.8 L400.8,488.8" fill="none" stroke="#000" stroke-width="1.15"/>
<path d="M391.2,488.8 L401.8,484.9 L401.8,492.7 Z" fill="#000"/>
<path d="M427,503.3 L403.8,503.3" fill="none" stroke="#000" stroke-width="1.15"/>
<path d="M394.2,503.3 L404.8,499.4 L404.8,507.2 Z" fill="#000"/>
<path d="M418.4,503.6 L408.92,509.76" fill="none" stroke="#000" stroke-width="1.15"/>
<path d="M401.8,514.4 L407.8,506.2 L411.73,512.24 Z" fill="#000"/>
<text x="428.4" y="510.2" font-family="Liberation Serif, serif" font-weight="bold" font-size="12.8" fill="#ff2020" textLength="12.6" lengthAdjust="spacingAndGlyphs">1D</text>
<g transform="translate(512.4,452) rotate(-90) scale(1,1)" fill="none" stroke="#000" stroke-width="0.8">
<circle cx="-6.1" cy="2.6" r="3.1"/><circle cx="6.1" cy="2.6" r="3.1"/>
<path d="M-6.1,2.6 L-2.6,-3.6 L3.2,-3.6 L6.1,2.6 M-2.6,-3.6 L0.4,2.6 L3.2,-3.6 M0.4,2.6 L-6.1,2.6 M-3.4,-5.4 L-1.6,-5.4 M-2.6,-3.6 L-2.6,-5.4 M3.2,-3.6 L2.8,-5.6 L4.6,-5.6"/>
</g>
<path d="M524.5,435 L524.5,462.2" fill="none" stroke="#000" stroke-width="1.15"/>
<path d="M524.5,471.8 L520.6,461.2 L528.4,461.2 Z" fill="#000"/>
<path d="M539.4,441.8 L539.4,462.2" fill="none" stroke="#000" stroke-width="1.15"/>
<path d="M539.4,471.8 L535.5,461.2 L543.3,461.2 Z" fill="#000"/>
<path d="M539.4,447.5 L545.69,456.93" fill="none" stroke="#000" stroke-width="1.15"/>
<path d="M550.4,464 L542.13,458.09 L548.13,454.1 Z" fill="#000"/>
<text x="533" y="443" font-family="Liberation Serif, serif" font-weight="bold" font-size="12.8" fill="#ff2020" textLength="12.6" lengthAdjust="spacingAndGlyphs">2D</text>
<path d="M501.7,480.8 L501.7,517.7" stroke="#000" stroke-width="1.2" stroke-dasharray="2.2 1.4" fill="none"/>
<path d="M497.3,513.3 L501.7,517.7 L506.1,513.3" stroke="#000" stroke-width="1.2" fill="none"/>
<path d="M497.3,485.2 L501.7,480.8 L506.1,485.2" stroke="#000" stroke-width="1.2" fill="none"/>
<text x="481" y="504.4" font-family="Liberation Serif, serif" font-weight="bold" font-size="12.8" fill="#ff2020" textLength="18.3" lengthAdjust="spacingAndGlyphs">11D</text>
</g>
</svg>
</body></html>
